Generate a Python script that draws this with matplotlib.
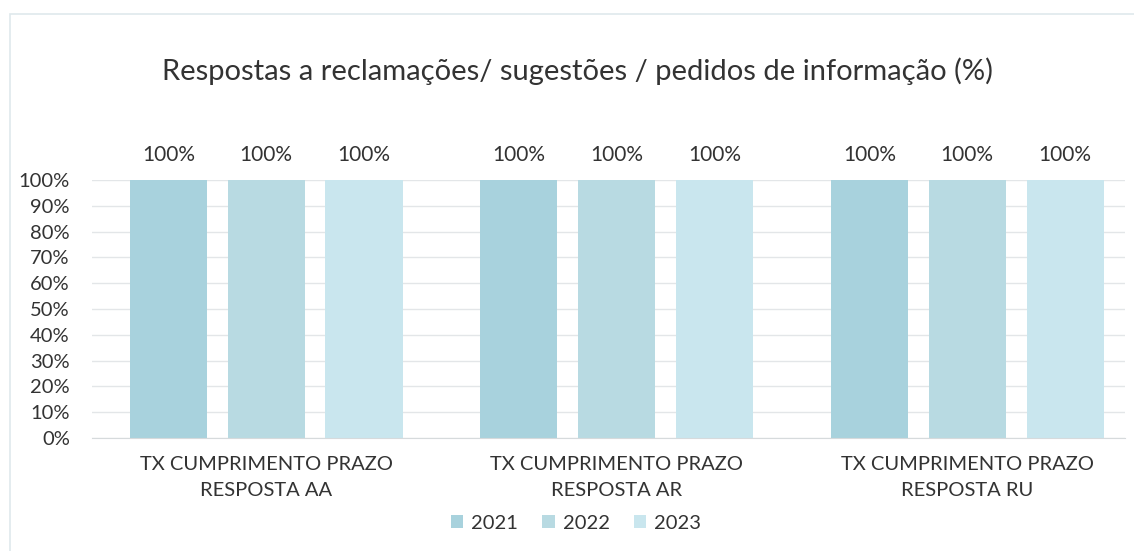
import matplotlib.pyplot as plt
from matplotlib.patches import Rectangle
import numpy as np

plt.rcParams['font.family'] = ['Lato', 'DejaVu Sans']

categories = ["TX CUMPRIMENTO PRAZO\nRESPOSTA AA",
              "TX CUMPRIMENTO PRAZO\nRESPOSTA AR",
              "TX CUMPRIMENTO PRAZO\nRESPOSTA RU"]
years = ["2021", "2022", "2023"]
values = {
    "2021": [100, 100, 100],
    "2022": [100, 100, 100],
    "2023": [100, 100, 100],
}
colors = ["#a8d2dd", "#b8dae2", "#c9e6ee"]

fig = plt.figure(figsize=(11.34, 5.51), dpi=100)
fig.patch.set_facecolor("white")
# chart frame
fig.patches.append(Rectangle((0.009, -0.01), 1.0, 0.985, transform=fig.transFigure,
                             fill=False, edgecolor="#dfe9ec", linewidth=1.2))

ax = fig.add_axes([92 / 1134, 1 - 438 / 551, (1125 - 92) / 1134, (438 - 180) / 551])
x = np.arange(len(categories))
width = 0.22
step = 0.279
for i, yr in enumerate(years):
    bars = ax.bar(x + (i - 1) * step, values[yr], width, color=colors[i], label=yr, zorder=2)
    for b, v in zip(bars, values[yr]):
        ax.text(b.get_x() + b.get_width() / 2, v + 6, f"{v}%", ha="center", va="bottom",
                fontsize=15, color="#333333")

ax.set_xlim(-0.497, 2.45)
ax.set_ylim(0, 100)
ax.set_yticks(range(0, 101, 10))
ax.set_yticklabels([f"{t}%" for t in range(0, 101, 10)], fontsize=14.5, color="#333333")
ax.set_xticks(x)
ax.set_xticklabels(categories, fontsize=14.5, color="#333333", linespacing=1.65)
ax.tick_params(length=0)
ax.tick_params(axis="y", pad=16)
ax.tick_params(axis="x", pad=13)
ax.yaxis.grid(True, color="#e3e6e8", linewidth=1, zorder=0)
for s in ax.spines.values():
    s.set_visible(False)
ax.spines["bottom"].set_visible(True)
ax.spines["bottom"].set_color("#d6dadc")

fig.text(0.509, 0.87, "Respostas a reclamações/ sugestões / pedidos de informação (%)",
         ha="center", va="center", fontsize=21, color="#333333")

fig.legend(loc="center", bbox_to_anchor=(0.508, 0.05), ncol=3, frameon=False,
           fontsize=14.5, handlelength=0.6, handleheight=0.6, columnspacing=1.2, handletextpad=0.4,
           labelcolor="#333333")

fig.savefig("out.png", dpi=100)
